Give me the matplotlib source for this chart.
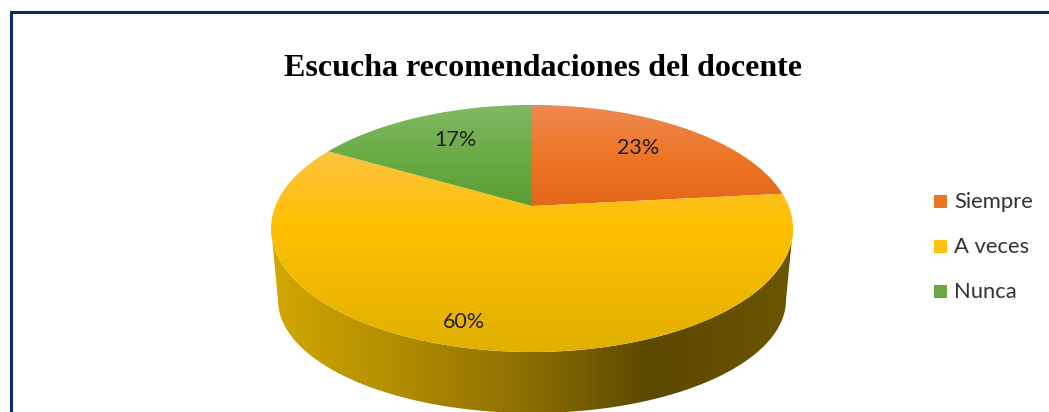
import numpy as np
from matplotlib import pyplot as plt
from matplotlib.colors import LinearSegmentedColormap
from matplotlib.patches import Polygon, Rectangle

categories = ['Siempre', 'A veces', 'Nunca']
values = [7, 18, 5]
labels = ['23%', '60%', '17%']
title = 'Escucha recomendaciones del docente'

W, H = 1049, 412
CX, CY = 532, 206   # apex of the pie in pixels
A, B, K = 256.6, 119.4, 0.182   # perspective of the top face


def project(frac):
    """position on the rim (fraction clockwise from 12 o'clock) to pixels"""
    t = 2 * np.pi * np.asarray(frac)
    px, py = np.sin(t), np.cos(t)
    w = 1 + K * py
    return CX + A * px / w, CY - B * py / w


def gradient(ax, stops, clip, vertical=True, span=(0, W, H, 0)):
    """draw a gradient image clipped to a patch"""
    cmap = LinearSegmentedColormap.from_list('g', stops)
    z = np.linspace(0, 1, 256)
    z = z[:, None] if vertical else z[None, :]
    im = ax.imshow(z, cmap=cmap, extent=span, aspect='auto', origin='upper', zorder=2, vmin=0, vmax=1)
    im.set_clip_path(clip)


fig = plt.figure(figsize=(W / 100, H / 100), dpi=100)
ax = fig.add_axes([0, 0, 1, 1])

# marco del grafico
ax.add_patch(Rectangle((10.5, 12), W + 20, H + 20, fc='white', ec='#0b2a6b', lw=2.2, zorder=1))

# pared lateral, desde el punto mas ancho de la cara superior
t0 = 0.25 + np.arcsin(K) / (2 * np.pi)
top_x, top_y = project(np.linspace(t0, 1 - t0, 200))
t = np.linspace(0.25, 0.75, 200)
low_x = 532 + 254 * np.sin(2 * np.pi * t)
low_y = 300 - 113 * np.cos(2 * np.pi * t)
side = Polygon(np.r_[np.c_[top_x, top_y], np.c_[low_x, low_y][::-1]], closed=True, fc='none', ec='none')
ax.add_patch(side)
side_stops = [(0, '#d2a800'), (0.25, '#b08c00'), (0.5, '#8a6e00'), (0.72, '#5c4800'), (1, '#6a5500')]
gradient(ax, side_stops, side, vertical=False, span=(270, 794, 415, 225))

# caras superiores
face_stops = [
    [(0, '#ec8a52'), (0.5, '#ee7526'), (1, '#e4661a')],
    [(0, '#fbc340'), (0.38, '#ffc000'), (1, '#e0b000')],
    [(0, '#82b864'), (0.5, '#6aac45'), (1, '#5a9e33')],
]
spans = [(105, 207), (150, 352), (105, 207)]
edges = np.cumsum([0] + values) / sum(values)
for i in range(len(values)):
    t = np.linspace(edges[i], edges[i + 1], 200)
    x, y = project(t)
    face = Polygon(np.c_[np.r_[CX, x], np.r_[CY, y]], closed=True, fc='none', ec='none')
    ax.add_patch(face)
    gradient(ax, face_stops[i], face, span=(260, 800, spans[i][1], spans[i][0]))

# etiquetas de datos
label_xy = [(638, 148), (464, 322), (455, 140)]
for s, (x, y) in zip(labels, label_xy):
    ax.text(x, y, s, fontsize=15.5, family='Lato', color='#1f1f1f', ha='center', va='center', zorder=3)

# leyenda
legend_colors = ['#ec7524', '#ffc20e', '#6aa843']
legend_y = [201, 246, 291]
for name, c, y in zip(categories, legend_colors, legend_y):
    ax.add_patch(Rectangle((934, y - 6.5), 13, 13, fc=c, ec='none', zorder=3))
    ax.text(954, y + 1, name, fontsize=15.8, family='Lato', color='#333333', ha='left', va='center', zorder=3)

ax.text(543, 68, title, fontsize=23, family='Liberation Serif', weight='bold',
        color='black', ha='center', va='center', zorder=3)

ax.set_xlim(0, W)
ax.set_ylim(H, 0)
ax.axis('off')

fig.savefig('out.png', dpi=100)
